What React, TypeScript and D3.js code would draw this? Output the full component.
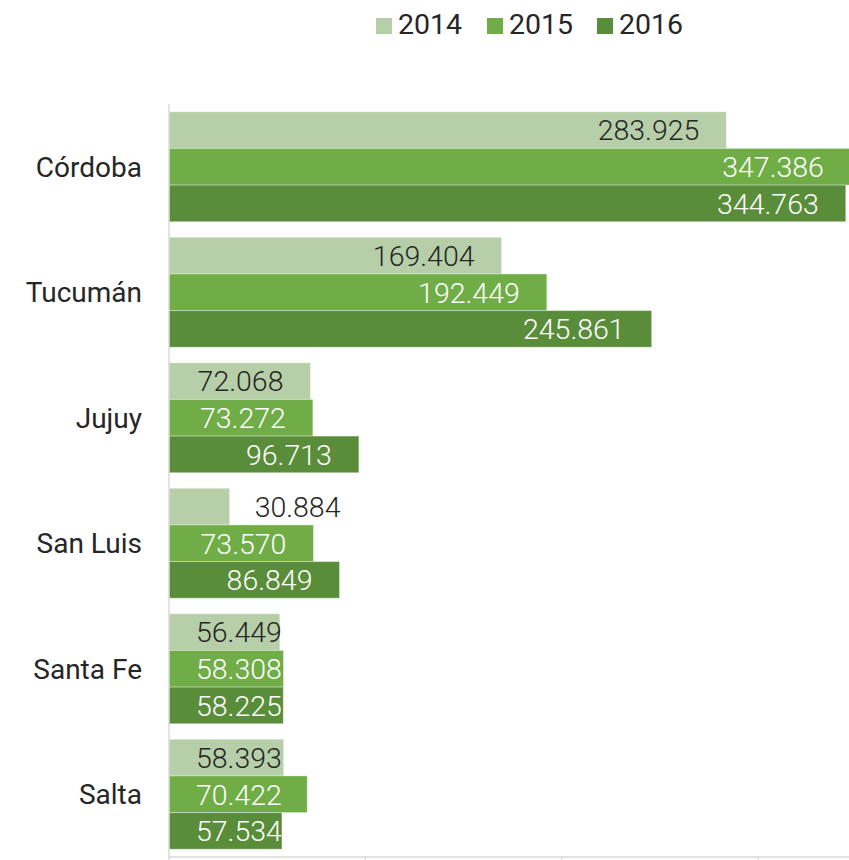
import React from "react";
import * as d3 from "d3";

const categories = ["Córdoba", "Tucumán", "Jujuy", "San Luis", "Santa Fe", "Salta"];
const years = ["2014", "2015", "2016"];
const values2014 = [283.925, 169.404, 72.068, 30.884, 56.449, 58.393];
const values2015 = [347.386, 192.449, 73.272, 73.57, 58.308, 70.422];
const values2016 = [344.763, 245.861, 96.713, 86.849, 58.225, 57.534];
const xTicks = [0, 100, 200, 300];
const seriesColors = ["#b6cfa8", "#70ad47", "#5a8d3a"];
const labelColors = ["#262626", "#ffffff", "#ffffff"];

const W = 849;
const H = 860;
const FONT = "Roboto, 'Noto Sans', sans-serif";
const LABEL_SIZE = 28.5;

let ctx: CanvasRenderingContext2D | null = null;
function measure(text: string, size: number, weight: number) {
  if (!ctx) ctx = document.createElement("canvas").getContext("2d");
  if (!ctx) return text.length * size * 0.5;
  ctx.font = `${weight} ${size}px Roboto`;
  return ctx.measureText(text).width;
}

function fmt(v: number) {
  return v.toFixed(3);
}

export default function App() {
  const series = [values2014, values2015, values2016];
  const x = d3.scaleLinear().domain([0, 400]).range([169, 169 + 4 * 196.3]);
  const y = d3
    .scaleBand<string>()
    .domain(categories)
    .range([104, 857])
    .paddingInner(0.124)
    .paddingOuter(0.062);
  const yInner = d3.scaleBand<string>().domain(years).range([0, y.bandwidth()]).padding(0);

  const pad = 27;

  return (
    <svg
      width={W}
      height={H}
      style={{ position: "absolute", left: 0, top: 0, background: "#fff" }}
      fontFamily={FONT}
    >
      <rect x={0} y={0} width={W} height={H} fill="#fff" />
      {/* legend */}
      {years.map((yr, i) => {
        const lx = [376, 487, 597][i];
        return (
          <g key={yr}>
            <rect x={lx} y={18} width={16} height={16} fill={seriesColors[i]} />
            <text x={lx + 22} y={34} fontSize={28.5} fill="#262626" fontWeight={400}>
              {yr}
            </text>
          </g>
        );
      })}

      {/* bars */}
      {categories.map((c, ci) => (
        <g key={c}>
          {years.map((yr, si) => {
            const v = series[si][ci];
            const y0 = (y(c) as number) + (yInner(yr) as number);
            const bh = yInner.bandwidth();
            const x0 = x(0);
            const x1 = x(v);
            return (
              <rect
                key={yr}
                x={x0}
                y={y0}
                width={x1 - x0}
                height={bh}
                fill={seriesColors[si]}
                stroke="#ffffff"
                strokeOpacity={0.35}
                strokeWidth={1}
              />
            );
          })}
        </g>
      ))}

      {/* value labels */}
      {categories.map((c, ci) => (
        <g key={c + "-lbl"}>
          {years.map((yr, si) => {
            const v = series[si][ci];
            const t = fmt(v);
            const tw = measure(t, LABEL_SIZE, 300);
            const y0 = (y(c) as number) + (yInner(yr) as number);
            const bh = yInner.bandwidth();
            const x0 = x(0);
            const x1 = x(v);
            let left = x1 - pad - tw;
            let color = labelColors[si];
            if (left < x0 + pad) left = x0 + pad;
            if (x1 - x0 < tw) {
              left = x1 + 25;
              color = "#262626";
            }
            return (
              <text
                key={yr}
                x={left}
                y={y0 + bh / 2}
                dy="0.36em"
                fontSize={LABEL_SIZE}
                fontWeight={300}
                fill={color}
              >
                {t}
              </text>
            );
          })}
        </g>
      ))}

      {/* axes */}
      <line x1={169} x2={169} y1={104} y2={857} stroke="#d9d9d9" strokeWidth={1.5} />
      <line x1={169} x2={W} y1={857} y2={857} stroke="#d9d9d9" strokeWidth={1.5} />
      {xTicks.map((t) => (
        <line key={t} x1={x(t)} x2={x(t)} y1={857} y2={862} stroke="#d9d9d9" strokeWidth={1.5} />
      ))}

      {/* category labels */}
      {categories.map((c) => (
        <text
          key={c + "-cat"}
          x={142}
          y={(y(c) as number) + y.bandwidth() / 2}
          dy="0.36em"
          textAnchor="end"
          fontSize={28}
          fill="#262626"
        >
          {c}
        </text>
      ))}
    </svg>
  );
}
